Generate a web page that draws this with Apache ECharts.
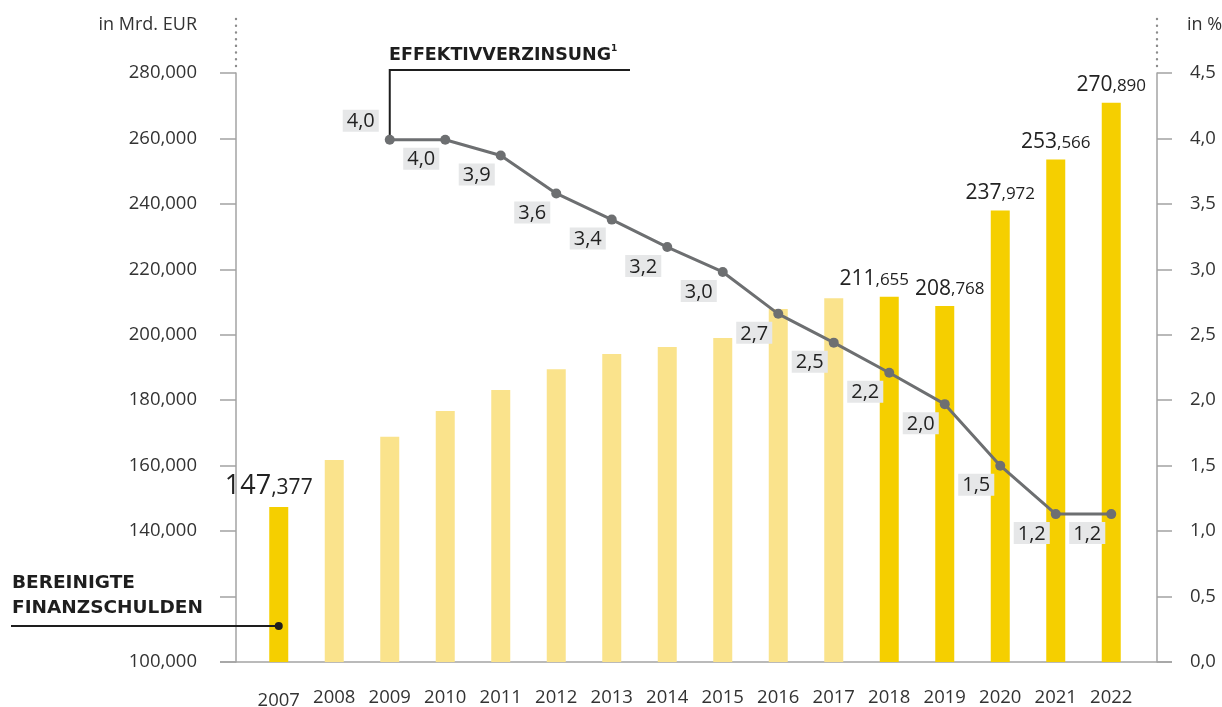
<!DOCTYPE html>
<html>
<head>
<meta charset="utf-8">
<script src="https://cdn.jsdelivr.net/npm/echarts@6/dist/echarts.min.js"></script>
<style>
html,body{margin:0;padding:0;background:#fff}
#chart{width:1222px;height:707px}
</style>
</head>
<body>
<div id="chart"></div>
<script>
// Bereinigte Finanzschulden (Mrd. EUR) und Effektivverzinsung (%)
var years = ['2007','2008','2009','2010','2011','2012','2013','2014','2015','2016','2017','2018','2019','2020','2021','2022'];
var debt = [147377, 161700, 168800, 176700, 183100, 189500, 194100, 196300, 199000, 207900, 211200, 211655, 208768, 237972, 253566, 270890];
var debtShown = [true, false, false, false, false, false, false, false, false, false, false, true, true, true, true, true];
var rate = [null, null, 3.99, 3.99, 3.87, 3.58, 3.38, 3.17, 2.98, 2.66, 2.44, 2.21, 1.97, 1.50, 1.13, 1.13];
var rateLabels = ['', '', '4,0', '4,0', '3,9', '3,6', '3,4', '3,2', '3,0', '2,7', '2,5', '2,2', '2,0', '1,5', '1,2', '1,2'];
var leftTicks = {min: 100000, max: 280000, step: 20000};
var rightTicks = {min: 0, max: 4.5, step: 0.5};

var GOLD = '#F5CF00', GOLD_LIGHT = '#FAE38C', LINE = '#6D6F71', AXIS = '#A3A3A3', TXT = '#333333';
var FONT = '"Open Sans", "Noto Sans", sans-serif';
var NOTE_FONT = '"DejaVu Sans", "Open Sans", sans-serif';

var chart = echarts.init(document.getElementById('chart'));

function splitThousands(v){
  var hi = Math.floor(v / 1000), lo = String(v % 1000);
  while(lo.length < 3) lo = '0' + lo;
  return {hi: hi, lo: lo};
}

// labels of neighbouring bars are nudged apart like in the print
var labelShift = {0: [-10, 0], 11: [-15, 0], 12: [5, 0]};

var barData = debt.map(function(v, i){
  var item = {value: v, itemStyle: {color: debtShown[i] ? GOLD : GOLD_LIGHT}, label: {show: debtShown[i]}};
  if(labelShift[i]) item.label.offset = labelShift[i];
  if(i === 0){
    item.label.formatter = function(p){ var s = splitThousands(p.value); return '{A|' + s.hi + '}{B|,' + s.lo + '}'; };
  }
  return item;
});

var lineData = rate.map(function(v, i){
  if(v === null) return '-';
  var first = (i === 2);
  return {
    value: v,
    label: {
      show: true,
      formatter: rateLabels[i],
      position: first ? 'top' : 'bottom',
      distance: 3,
      offset: first ? [-29, 0] : [-24, 0]
    }
  };
});

var xData = years.map(function(y, i){
  return i === 0 ? {value: y, textStyle: {padding: [3, 0, 0, 0]}} : y;
});

var option = {
  animation: false,
  textStyle: {fontFamily: FONT},
  grid: {left: 251, right: 83, top: 73, bottom: 45, containLabel: false, outerBoundsMode: 'none'},
  xAxis: {
    type: 'category',
    data: xData,
    axisLine: {show: false},
    axisTick: {show: false},
    axisLabel: {color: TXT, fontSize: 18.5, fontFamily: FONT, margin: 26, interval: 0}
  },
  yAxis: [{
    type: 'value',
    min: leftTicks.min, max: leftTicks.max, interval: leftTicks.step,
    offset: 15,
    splitLine: {show: false},
    axisLine: {show: true, lineStyle: {color: AXIS, width: 1.5}},
    axisTick: {show: true, length: 16, lineStyle: {color: AXIS, width: 1.5}},
    axisLabel: {
      color: TXT, fontSize: 18.5, fontFamily: FONT, margin: 39,
      formatter: function(v){ return v === 120000 ? '' : v.toLocaleString('en-US'); }
    }
  }, {
    type: 'value',
    min: rightTicks.min, max: rightTicks.max, interval: rightTicks.step,
    offset: 18,
    splitLine: {show: false},
    axisLine: {show: true, lineStyle: {color: AXIS, width: 1.5}},
    axisTick: {show: true, length: 15, lineStyle: {color: AXIS, width: 1.5}},
    axisLabel: {
      color: TXT, fontSize: 18.5, fontFamily: FONT, margin: 33,
      formatter: function(v){ return v.toFixed(1).replace('.', ','); }
    }
  }],
  series: [{
    name: 'Bereinigte Finanzschulden',
    type: 'bar',
    yAxisIndex: 0,
    barWidth: 19,
    data: barData,
    label: {
      position: 'top',
      distance: 7,
      formatter: function(p){ var s = splitThousands(p.value); return '{a|' + s.hi + '}{b|,' + s.lo + '}'; },
      rich: {
        a: {fontSize: 21, color: '#222', fontFamily: FONT, verticalAlign: 'bottom', lineHeight: 21},
        b: {fontSize: 17, color: '#222', fontFamily: FONT, verticalAlign: 'bottom', lineHeight: 17, padding: [0, 0, 1, 0]},
        A: {fontSize: 27, color: '#222', fontFamily: FONT, verticalAlign: 'bottom', lineHeight: 27},
        B: {fontSize: 21, color: '#222', fontFamily: FONT, verticalAlign: 'bottom', lineHeight: 21, padding: [0, 0, 1, 0]}
      }
    },
    z: 2
  }, {
    name: 'Effektivverzinsung',
    type: 'line',
    yAxisIndex: 1,
    data: lineData,
    symbol: 'circle',
    symbolSize: 10,
    lineStyle: {color: LINE, width: 3},
    itemStyle: {color: LINE},
    label: {
      color: '#222', fontSize: 20, fontFamily: FONT,
      backgroundColor: '#E6E7E8', padding: [2, 4, 0, 4]
    },
    z: 5
  }]
};
chart.setOption(option);

// decorations placed from the axes' own scale
var yBase = chart.convertToPixel({yAxisIndex: 0}, leftTicks.min);
var yTop = chart.convertToPixel({yAxisIndex: 0}, leftTicks.max);
var leftAxisX = 251 - 15, rightAxisX = 1222 - 83 + 18;
var p2009 = chart.convertToPixel({seriesIndex: 1}, [2, rate[2]]);
var x2007 = chart.convertToPixel({xAxisIndex: 0}, 0);
var yNote = chart.convertToPixel({yAxisIndex: 0}, 111000);

var dark = '#1E1E1E';
chart.setOption({
  graphic: [
    {type: 'line', shape: {x1: leftAxisX - 16, y1: yBase, x2: rightAxisX + 15, y2: yBase}, style: {stroke: AXIS, lineWidth: 1.5}, z: 1},
    {type: 'line', shape: {x1: leftAxisX, y1: 19, x2: leftAxisX, y2: yTop - 6}, style: {stroke: '#8C8C8C', lineWidth: 2.4, lineDash: [0.1, 6.6], lineCap: 'round'}},
    {type: 'line', shape: {x1: rightAxisX, y1: 19, x2: rightAxisX, y2: yTop - 6}, style: {stroke: '#8C8C8C', lineWidth: 2.4, lineDash: [0.1, 6.6], lineCap: 'round'}},
    {type: 'text', x: 197, y: 25, style: {text: 'in Mrd. EUR', fill: TXT, font: '18px ' + FONT, textAlign: 'right', textVerticalAlign: 'middle'}},
    {type: 'text', x: 1187, y: 25, style: {text: 'in %', fill: TXT, font: '18px ' + FONT, textAlign: 'left', textVerticalAlign: 'middle'}},
    // Effektivverzinsung callout
    {type: 'polyline', shape: {points: [[p2009[0], p2009[1]], [p2009[0], 70], [630, 70]]}, style: {stroke: dark, lineWidth: 2, fill: null}, z: 4},
    {type: 'text', x: 389, y: 54, z: 6, style: {
      text: '{t|EFFEKTIVVERZINSUNG}{s|1}', textVerticalAlign: 'middle',
      rich: {
        t: {fontFamily: NOTE_FONT, fontWeight: 'bold', fontSize: 17.5, fill: dark, verticalAlign: 'bottom', lineHeight: 20},
        s: {fontFamily: NOTE_FONT, fontWeight: 'bold', fontSize: 9, fill: dark, verticalAlign: 'top', lineHeight: 20}
      }
    }},
    // Finanzschulden callout
    {type: 'line', shape: {x1: 11, y1: yNote, x2: x2007, y2: yNote}, style: {stroke: dark, lineWidth: 2}, z: 4},
    {type: 'circle', shape: {cx: x2007, cy: yNote, r: 4}, style: {fill: dark}, z: 4},
    {type: 'text', x: 12, y: 583, z: 6, style: {text: 'BEREINIGTE', fill: dark, font: 'bold 18.5px ' + NOTE_FONT, textVerticalAlign: 'middle'}},
    {type: 'text', x: 12, y: 608, z: 6, style: {text: 'FINANZSCHULDEN', fill: dark, font: 'bold 18.5px ' + NOTE_FONT, textVerticalAlign: 'middle'}}
  ]
});
</script>
</body>
</html>
